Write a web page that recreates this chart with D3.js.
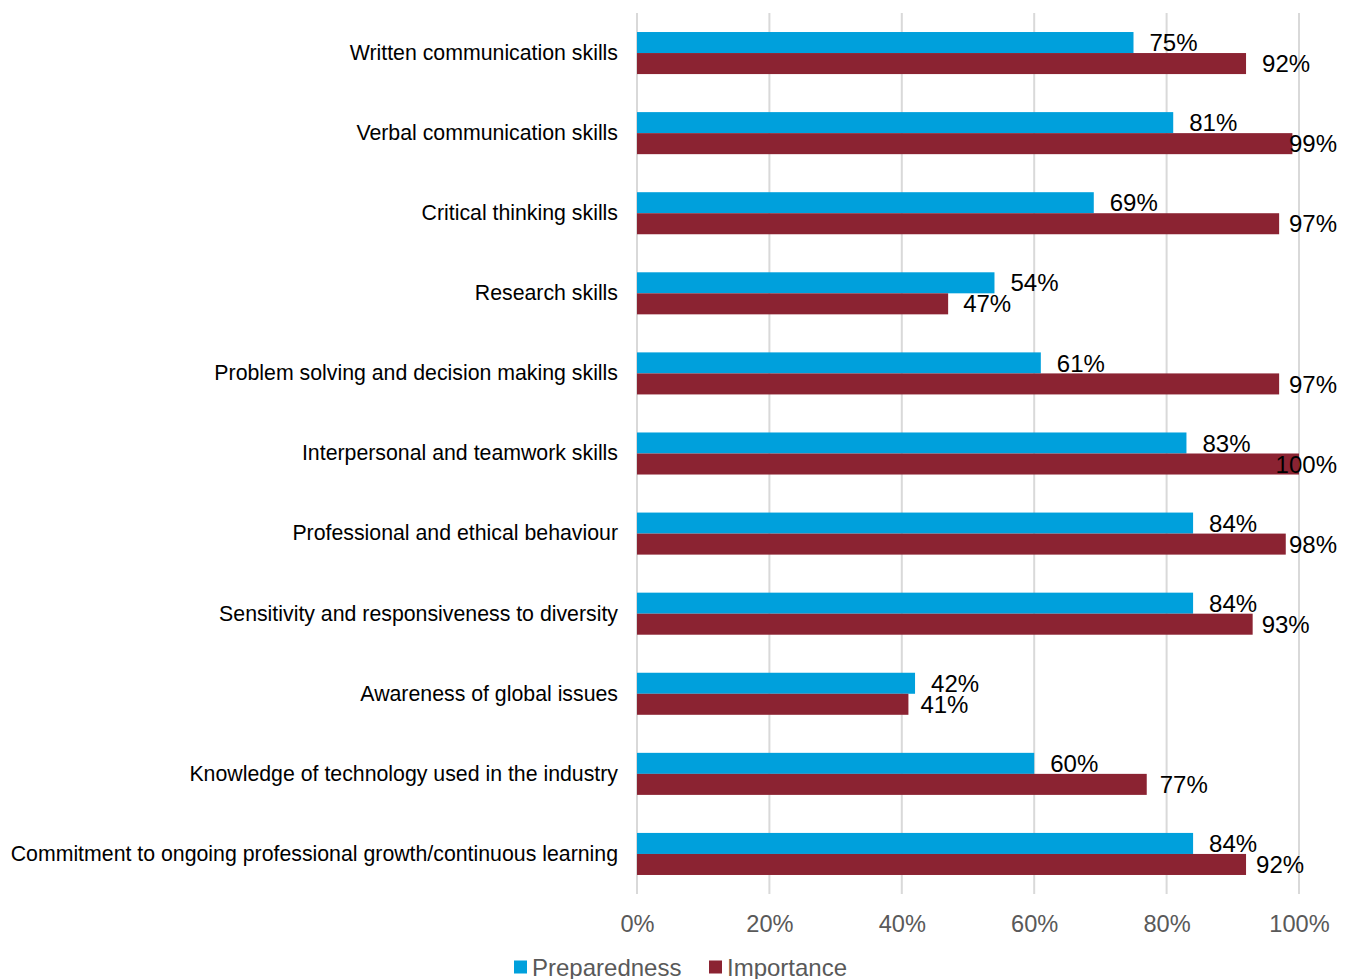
<!DOCTYPE html>
<html>
<head>
<meta charset="utf-8">
<script src="https://cdn.jsdelivr.net/npm/d3@7"></script>
<style>
  html, body { margin: 0; padding: 0; background: #fff; }
  svg { display: block; font-family: "Liberation Sans", Arial, sans-serif; }
</style>
</head>
<body>
<svg id="chart" width="1348" height="979"></svg>
<script>
// Skills surveyed, top to bottom
const categories = [
  "Written communication skills",
  "Verbal communication skills",
  "Critical thinking skills",
  "Research skills",
  "Problem solving and decision making skills",
  "Interpersonal and teamwork skills",
  "Professional and ethical behaviour",
  "Sensitivity and responsiveness to diversity",
  "Awareness of global issues",
  "Knowledge of technology used in the industry",
  "Commitment to ongoing professional growth/continuous learning"
];
const preparedness = [75, 81, 69, 54, 61, 83, 84, 84, 42, 60, 84];
const importance   = [92, 99, 97, 47, 97, 100, 98, 93, 41, 77, 92];
const seriesNames  = ["Preparedness", "Importance"];
const seriesColors = ["#00A0DC", "#8B2332"];
const xTicks = [0, 20, 40, 60, 80, 100];

// gap (px) between each bar end and its value label
const labelGaps = [
  [16, 16, 16, 16, 16, 16, 16, 16, 16, 16, 16],
  [16, 16, 16, 15, 16, 16, 16, 9, 12, 13, 10]
];

const svg = d3.select("#chart");
const plot = { left: 637, right: 1299, top: 13, bottom: 894 };
const labelEdge = 1337;

const x = d3.scaleLinear().domain([0, 100]).range([plot.left, plot.right]);
const y = d3.scaleBand().domain(categories).range([plot.top, plot.bottom]).paddingInner(0.475).paddingOuter(0.2375);
const sub = d3.scaleBand().domain(seriesNames).range([0, y.bandwidth()]);

// vertical gridlines
svg.append("g").selectAll("line").data(xTicks).join("line")
  .attr("x1", d => x(d)).attr("x2", d => x(d))
  .attr("y1", plot.top).attr("y2", plot.bottom)
  .attr("stroke", "#D9D9D9").attr("stroke-width", 2);

// x axis tick labels
const xAxis = d3.axisBottom(x).tickValues(xTicks).tickFormat(d => d + "%").tickSize(0).tickPadding(0);
const gx = svg.append("g").attr("transform", `translate(0,${plot.bottom})`).call(xAxis);
gx.select(".domain").remove();
gx.selectAll("text")
  .attr("y", 30).attr("dy", "0.35em")
  .attr("fill", "#595959").attr("font-size", 23.6)
  .attr("font-family", "'Liberation Sans', Arial, sans-serif");

// category labels
const yAxis = d3.axisLeft(y).tickSize(0).tickPadding(19);
const gy = svg.append("g").attr("transform", `translate(${plot.left},0)`).call(yAxis);
gy.select(".domain").remove();
gy.selectAll("text")
  .attr("fill", "#000").attr("font-size", 21.3)
  .attr("font-family", "'Liberation Sans', Arial, sans-serif");

// bars and value labels
const series = [preparedness, importance];
series.forEach((vals, si) => {
  const name = seriesNames[si];
  const g = svg.append("g");
  g.selectAll("rect").data(categories).join("rect")
    .attr("x", x(0))
    .attr("y", c => y(c) + sub(name))
    .attr("width", (c, i) => x(vals[i]) - x(0))
    .attr("height", sub.bandwidth())
    .attr("fill", seriesColors[si]);

  g.selectAll("text").data(categories).join("text")
    .attr("y", c => y(c) + sub(name) + sub.bandwidth() / 2)
    .attr("dy", "0.36em")
    .attr("font-size", 24)
    .attr("fill", "#000")
    .text((c, i) => vals[i] + "%")
    .each(function(c, i) {
      const t = d3.select(this);
      const w = this.getComputedTextLength();
      let px = x(vals[i]) + labelGaps[si][i];
      if (px + w > labelEdge) px = labelEdge - w;
      t.attr("x", px);
    });
});

// legend
const legend = svg.append("g").attr("transform", "translate(514,967)");
const items = [{ name: seriesNames[0], x: 0 }, { name: seriesNames[1], x: 195 }];
items.forEach((it, i) => {
  legend.append("rect").attr("x", it.x).attr("y", -6.5).attr("width", 13).attr("height", 13)
    .attr("fill", seriesColors[i]);
  legend.append("text").attr("x", it.x + 18).attr("y", 0).attr("dy", "0.36em")
    .attr("font-size", 24).attr("fill", "#595959").text(it.name);
});
</script>
</body>
</html>
